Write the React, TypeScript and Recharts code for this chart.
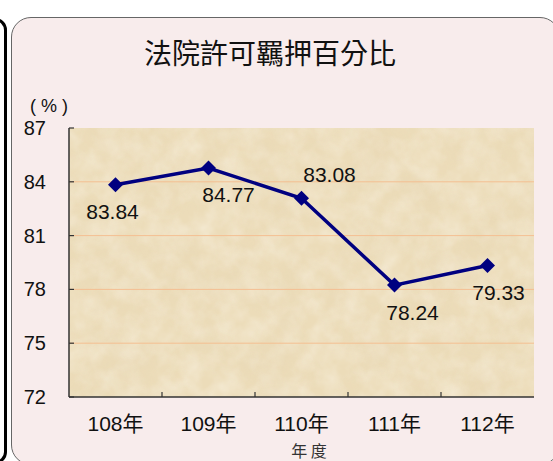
import React from 'react';
import {
  LineChart,
  Line,
  XAxis,
  YAxis,
  CartesianGrid,
} from 'recharts';

const years = ['108年', '109年', '110年', '111年', '112年'];
const rates = [83.84, 84.77, 83.08, 78.24, 79.33];
const yTicks = [72, 75, 78, 81, 84, 87];

// where each value label sits relative to its point
const labelOffsets = [
  { dx: -3, dy: 27 },
  { dx: 20, dy: 27 },
  { dx: 28, dy: -24 },
  { dx: 18, dy: 27 },
  { dx: 11, dy: 27 },
];

const W = 553;
const H = 461;
const xAxisHeight = 34;
const margin = { top: 128, right: 19, left: 0, bottom: 64 - xAxisHeight };
const yAxisWidth = 69;
const plotW = W - yAxisWidth - margin.right;
const bandW = plotW / years.length;
const axisY = H - margin.bottom - xAxisHeight;

const numFont = "'Liberation Sans', Arial, 'Noto Sans CJK TC', sans-serif";
const cjkFont = "'Noto Sans CJK TC', 'Liberation Sans', sans-serif";

const data = years.map((year, i) => ({ year, rate: rates[i] }));

function Diamond(props: any) {
  const { cx, cy, index } = props;
  if (cx == null || cy == null) return null;
  const r = 7.5;
  return (
    <path
      key={`d-${index}`}
      d={`M${cx},${cy - r} L${cx + r},${cy} L${cx},${cy + r} L${cx - r},${cy} Z`}
      fill="#000080"
    />
  );
}

function ValueLabel(props: any) {
  const { x, y, value, index } = props;
  const off = labelOffsets[index] || { dx: 0, dy: 0 };
  return (
    <text
      x={x + off.dx}
      y={y + off.dy}
      textAnchor="middle"
      dominantBaseline="central"
      fontFamily={numFont}
      fontSize={21}
      fill="#111"
    >
      {Number(value).toFixed(2)}
    </text>
  );
}

function YearTick(props: any) {
  const { x, y, payload, index } = props;
  return (
    <g>
      {index > 0 && (
        <line
          x1={x - bandW / 2}
          x2={x - bandW / 2}
          y1={axisY}
          y2={axisY - 5}
          stroke="#333"
          strokeWidth={1.2}
        />
      )}
      <text
        x={x}
        y={y}
        textAnchor="middle"
        dominantBaseline="central"
        fontFamily={numFont}
        fontSize={21}
        fill="#111"
      >
        {payload.value}
      </text>
    </g>
  );
}

function ValueTick(props: any) {
  const { x, y, payload } = props;
  return (
    <g>
      <line x1={yAxisWidth} x2={yAxisWidth + 5} y1={y} y2={y} stroke="#333" strokeWidth={1.2} />
      <text
        x={x}
        y={y}
        textAnchor="end"
        dominantBaseline="central"
        fontFamily={numFont}
        fontSize={20}
        fill="#111"
      >
        {payload.value}
      </text>
    </g>
  );
}

export default function App() {
  return (
    <div
      style={{
        position: 'absolute',
        left: 0,
        top: 0,
        width: W,
        height: H,
        overflow: 'hidden',
        background: '#fff',
      }}
    >
      <svg width={0} height={0} style={{ position: 'absolute' }}>
        <defs>
          <filter id="noise" x="0" y="0" width="100%" height="100%">
            <feTurbulence type="fractalNoise" baseFrequency="0.02" numOctaves={4} seed={7} />
            <feColorMatrix
              type="matrix"
              values="0 0 0 0 0.75  0 0 0 0 0.62  0 0 0 0 0.4  1.4 0 0 0 -0.5"
            />
          </filter>
          <filter id="noise2" x="0" y="0" width="100%" height="100%">
            <feTurbulence type="fractalNoise" baseFrequency="0.05" numOctaves={3} seed={21} />
            <feColorMatrix
              type="matrix"
              values="0 0 0 0 1  0 0 0 0 0.97  0 0 0 0 0.9  1.4 0 0 0 -0.45"
            />
          </filter>
          <pattern id="paper" patternUnits="userSpaceOnUse" x="0" y="0" width={W} height={H}>
            <rect width={W} height={H} fill="#ecdcb9" />
            <rect width={W} height={H} filter="url(#noise2)" opacity={0.45} />
            <rect width={W} height={H} filter="url(#noise)" opacity={0.3} />
          </pattern>
        </defs>
      </svg>

      {/* left neighbour panel edge */}
      <div
        style={{
          position: 'absolute',
          left: -40,
          top: 18,
          width: 41,
          height: 440,
          border: '3px solid #000',
          borderRadius: 12,
          background: '#fff',
        }}
      />

      {/* main panel */}
      <div
        style={{
          position: 'absolute',
          left: 11,
          top: 17,
          width: 547,
          height: 446,
          border: '1.5px solid #666',
          borderRadius: 20,
          background: '#f8ecec',
        }}
      />

      <div
        style={{
          position: 'absolute',
          left: 0,
          width: 540,
          top: 33,
          textAlign: 'center',
          fontFamily: cjkFont,
          fontSize: 28,
          lineHeight: '38px',
          color: '#111',
        }}
      >
        法院許可羈押百分比
      </div>

      <div
        style={{
          position: 'absolute',
          left: 30,
          top: 96,
          fontFamily: numFont,
          fontSize: 18,
          lineHeight: '20px',
          color: '#111',
          whiteSpace: 'pre',
        }}
      >
        ( % )
      </div>

      <div
        style={{
          position: 'absolute',
          left: 259,
          width: 100,
          top: 440,
          textAlign: 'center',
          fontFamily: cjkFont,
          fontSize: 16,
          lineHeight: '20px',
          color: '#333',
        }}
      >
        年 度
      </div>

      <div style={{ position: 'absolute', left: 0, top: 0 }}>
        <LineChart width={W} height={H} data={data} margin={margin}>
          <CartesianGrid
            vertical={false}
            horizontalValues={[75, 78, 81, 84]}
            stroke="#f4bf92"
            strokeWidth={1}
            fill="url(#paper)"
            fillOpacity={1}
          />
          <XAxis
            xAxisId="frame"
            orientation="top"
            height={0}
            tick={false}
            tickLine={false}
            axisLine={{ stroke: '#7a7a7a', strokeWidth: 2 }}
          />
          <YAxis
            yAxisId="frame"
            orientation="right"
            width={0}
            tick={false}
            tickLine={false}
            axisLine={{ stroke: '#7a7a7a', strokeWidth: 2 }}
          />
          <XAxis
            dataKey="year"
            height={xAxisHeight}
            padding={{ left: bandW / 2, right: bandW / 2 }}
            axisLine={{ stroke: '#333', strokeWidth: 1.5 }}
            tickLine={false}
            tickMargin={20}
            tick={<YearTick />}
            interval={0}
          />
          <YAxis
            domain={[72, 87]}
            ticks={yTicks}
            width={yAxisWidth}
            axisLine={{ stroke: '#333', strokeWidth: 1.5 }}
            tickLine={false}
            tickMargin={17}
            tick={<ValueTick />}
            interval={0}
          />
          <Line
            type="linear"
            dataKey="rate"
            stroke="#000080"
            strokeWidth={3.5}
            dot={<Diamond />}
            activeDot={false}
            label={<ValueLabel />}
            isAnimationActive={false}
          />
        </LineChart>
      </div>
    </div>
  );
}
